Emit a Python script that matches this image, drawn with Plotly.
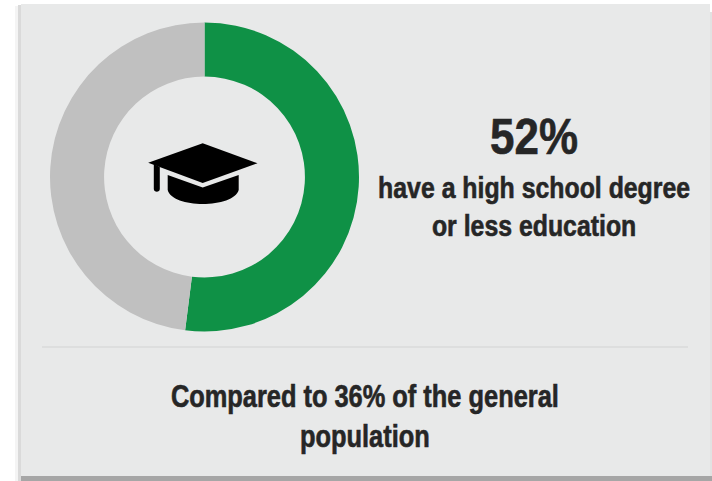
import plotly.graph_objects as go

# Share of people by education level
segments = ["High school degree or less", "More education"]
shares = [52, 48]
segment_colors = ["#0f9146", "#c0c0c0"]

headline = "52%"
subhead = "have a high school degree<br>or less education"
comparison = "Compared to 36% of the general<br>population"

WIDTH, HEIGHT = 712, 481
FONT = "Liberation Sans"


def fx(x):
    return x / WIDTH


def fy(y):
    return 1 - y / HEIGHT


def box(x0, y0, x1, y1, color):
    return dict(type="rect", xref="paper", yref="paper", x0=fx(x0), x1=fx(x1),
                y0=fy(y1), y1=fy(y0), fillcolor=color, line_width=0, layer="below")


def path(commands, color):
    # Each command is a letter plus canvas-pixel points
    d = ""
    for cmd, pts in commands:
        d += cmd + " ".join(f"{fx(x):.5f} {fy(y):.5f}" for x, y in pts) + " "
    return dict(type="path", xref="paper", yref="paper", path=d + "Z",
                fillcolor=color, line_width=0, layer="above")


card_shapes = [
    box(15, 6, 18, 481, "#f4f4f4"),
    box(18, 5, 21, 481, "#dadada"),
    box(21, 476, 712, 481, "#a6a6a6"),
    box(710, 12, 712, 476, "#e2e2e2"),
    box(21, 4, 710, 476, "#e8e9e9"),
    box(42, 346.5, 688, 347.5, "#d2d3d3"),
]

# Graduation cap icon at the centre of the ring
ICON = "#000000"
icon_shapes = [
    path([("M", [(202.7, 143.3)]), ("L", [(257.5, 163.2)]), ("L", [(202.7, 183)]),
          ("L", [(148.2, 162.7)])], ICON),
    path([("M", [(153.8, 164)]), ("L", [(159.8, 167)]), ("L", [(159.8, 189)]),
          ("C", [(159.8, 192.5), (153.8, 192.5), (153.8, 189)])], ICON),
    path([("M", [(167.7, 175)]), ("L", [(202.7, 187.5)]), ("L", [(238.7, 175)]),
          ("L", [(238.7, 190)]),
          ("C", [(236, 199), (220, 204), (202.7, 204)]),
          ("C", [(186, 204), (170, 199), (167.7, 190)])], ICON),
]

fig = go.Figure(go.Pie(
    labels=segments,
    values=shares,
    hole=0.65,
    sort=False,
    direction="clockwise",
    rotation=0,
    marker=dict(colors=segment_colors, line_width=0),
    textinfo="none",
    hoverinfo="label+percent",
    showlegend=False,
    domain=dict(x=[fx(50), fx(359)], y=[fy(331.5), fy(22.5)]),
))

DARK = "#262626"


def caption(text, x, y, size):
    return dict(text=f"<b>{text}</b>", xref="paper", yref="paper", x=fx(x), y=fy(y),
                xanchor="center", yanchor="middle", showarrow=False,
                font=dict(family=FONT, size=size, color=DARK), align="center")


fig.update_layout(
    width=WIDTH,
    height=HEIGHT,
    margin=dict(l=0, r=0, t=0, b=0),
    paper_bgcolor="#ffffff",
    plot_bgcolor="#ffffff",
    shapes=card_shapes + icon_shapes,
    annotations=[
        caption(headline, 534, 137, 50),
        caption(subhead, 534, 207, 29),
        caption(comparison, 365, 416, 31),
    ],
)

# Condense the captions horizontally to the narrow type widths and thicken the strokes
condense = """
var widths = [88, 312, 388];
document.querySelectorAll('.annotation-text').forEach(function (t, i) {
  var b = t.getBBox();
  var cx = b.x + b.width / 2;
  var k = widths[i] / b.width;
  t.setAttribute('transform', 'translate(' + cx + ' 0) scale(' + k + ' 1) translate(' + (-cx) + ' 0)');
  t.style.stroke = '#262626';
  t.style.strokeWidth = '0.6px';
});
"""

fig.write_html("out.html", config=dict(displayModeBar=False), post_script=condense)
